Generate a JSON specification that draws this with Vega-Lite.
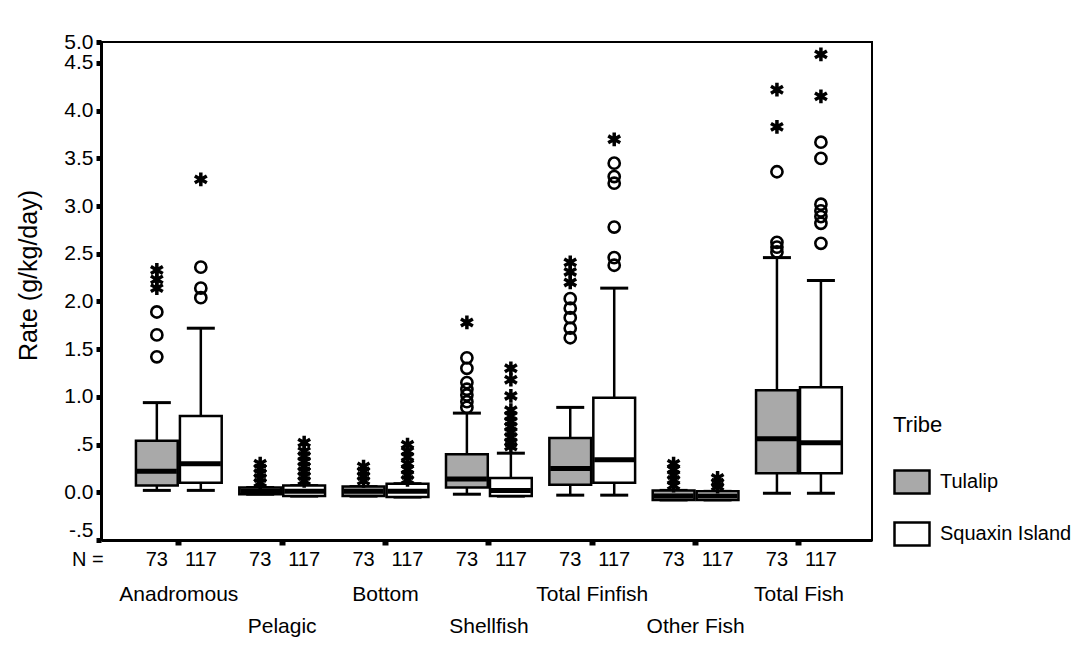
{
  "$schema": "https://vega.github.io/schema/vega-lite/v6.json",
  "width": 771,
  "height": 498,
  "autosize": {"type": "none"},
  "padding": {"left": 101, "top": 42, "right": 219, "bottom": 105},
  "background": "white",
  "config": {
    "font": "Liberation Sans",
    "view": {"stroke": "black", "strokeWidth": 2},
    "axis": {
      "domainColor": "black", "domainWidth": 3, "tickColor": "black",
      "labelColor": "black", "titleColor": "black", "grid": false,
      "labelFont": "Liberation Sans", "labelFontSize": 21,
      "titleFont": "Liberation Sans", "titleFontWeight": "normal", "titleFontSize": 25
    }
  },
  "datasets": {
    "boxes": [
      {"cat":"Anadromous","tribe":"Tulalip","n":73,"lo":0.02,"q1":0.07,"med":0.22,"q3":0.54,"hi":0.94},
      {"cat":"Anadromous","tribe":"Squaxin Island","n":117,"lo":0.02,"q1":0.1,"med":0.3,"q3":0.8,"hi":1.72},
      {"cat":"Pelagic","tribe":"Tulalip","n":73,"lo":-0.02,"q1":-0.02,"med":0.01,"q3":0.05,"hi":0.05},
      {"cat":"Pelagic","tribe":"Squaxin Island","n":117,"lo":-0.04,"q1":-0.04,"med":0.01,"q3":0.07,"hi":0.07},
      {"cat":"Bottom","tribe":"Tulalip","n":73,"lo":-0.04,"q1":-0.04,"med":0.01,"q3":0.06,"hi":0.06},
      {"cat":"Bottom","tribe":"Squaxin Island","n":117,"lo":-0.05,"q1":-0.05,"med":0.01,"q3":0.09,"hi":0.09},
      {"cat":"Shellfish","tribe":"Tulalip","n":73,"lo":-0.02,"q1":0.05,"med":0.14,"q3":0.4,"hi":0.83},
      {"cat":"Shellfish","tribe":"Squaxin Island","n":117,"lo":-0.04,"q1":-0.04,"med":0.02,"q3":0.15,"hi":0.41},
      {"cat":"Total Finfish","tribe":"Tulalip","n":73,"lo":-0.03,"q1":0.08,"med":0.25,"q3":0.57,"hi":0.89},
      {"cat":"Total Finfish","tribe":"Squaxin Island","n":117,"lo":-0.03,"q1":0.1,"med":0.34,"q3":0.99,"hi":2.14},
      {"cat":"Other Fish","tribe":"Tulalip","n":73,"lo":-0.08,"q1":-0.08,"med":-0.04,"q3":0.02,"hi":0.02},
      {"cat":"Other Fish","tribe":"Squaxin Island","n":117,"lo":-0.08,"q1":-0.08,"med":-0.04,"q3":0.01,"hi":0.01},
      {"cat":"Total Fish","tribe":"Tulalip","n":73,"lo":-0.01,"q1":0.2,"med":0.56,"q3":1.07,"hi":2.46},
      {"cat":"Total Fish","tribe":"Squaxin Island","n":117,"lo":-0.01,"q1":0.2,"med":0.52,"q3":1.1,"hi":2.22}
    ],
    "outliers": [
      {"cat":"Anadromous","tribe":"Tulalip","v":1.89},{"cat":"Anadromous","tribe":"Tulalip","v":1.65},{"cat":"Anadromous","tribe":"Tulalip","v":1.42},
      {"cat":"Anadromous","tribe":"Squaxin Island","v":2.36},{"cat":"Anadromous","tribe":"Squaxin Island","v":2.14},{"cat":"Anadromous","tribe":"Squaxin Island","v":2.04},
      {"cat":"Shellfish","tribe":"Tulalip","v":1.41},{"cat":"Shellfish","tribe":"Tulalip","v":1.3},{"cat":"Shellfish","tribe":"Tulalip","v":1.15},{"cat":"Shellfish","tribe":"Tulalip","v":1.08},{"cat":"Shellfish","tribe":"Tulalip","v":1.02},{"cat":"Shellfish","tribe":"Tulalip","v":0.95},{"cat":"Shellfish","tribe":"Tulalip","v":0.89},
      {"cat":"Total Finfish","tribe":"Tulalip","v":2.03},{"cat":"Total Finfish","tribe":"Tulalip","v":1.93},{"cat":"Total Finfish","tribe":"Tulalip","v":1.83},{"cat":"Total Finfish","tribe":"Tulalip","v":1.72},{"cat":"Total Finfish","tribe":"Tulalip","v":1.62},
      {"cat":"Total Finfish","tribe":"Squaxin Island","v":3.45},{"cat":"Total Finfish","tribe":"Squaxin Island","v":3.31},{"cat":"Total Finfish","tribe":"Squaxin Island","v":3.24},{"cat":"Total Finfish","tribe":"Squaxin Island","v":2.78},{"cat":"Total Finfish","tribe":"Squaxin Island","v":2.46},{"cat":"Total Finfish","tribe":"Squaxin Island","v":2.38},
      {"cat":"Total Fish","tribe":"Tulalip","v":3.36},{"cat":"Total Fish","tribe":"Tulalip","v":2.62},{"cat":"Total Fish","tribe":"Tulalip","v":2.57},{"cat":"Total Fish","tribe":"Tulalip","v":2.52},
      {"cat":"Total Fish","tribe":"Squaxin Island","v":3.67},{"cat":"Total Fish","tribe":"Squaxin Island","v":3.5},{"cat":"Total Fish","tribe":"Squaxin Island","v":3.02},{"cat":"Total Fish","tribe":"Squaxin Island","v":2.95},{"cat":"Total Fish","tribe":"Squaxin Island","v":2.89},{"cat":"Total Fish","tribe":"Squaxin Island","v":2.82},{"cat":"Total Fish","tribe":"Squaxin Island","v":2.61}
    ],
    "extremes": [
      {"cat":"Anadromous","tribe":"Tulalip","v":2.33},{"cat":"Anadromous","tribe":"Tulalip","v":2.23},{"cat":"Anadromous","tribe":"Tulalip","v":2.14},
      {"cat":"Anadromous","tribe":"Squaxin Island","v":3.28},
      {"cat":"Pelagic","tribe":"Tulalip","v":0.3},{"cat":"Pelagic","tribe":"Tulalip","v":0.25},{"cat":"Pelagic","tribe":"Tulalip","v":0.2},{"cat":"Pelagic","tribe":"Tulalip","v":0.15},{"cat":"Pelagic","tribe":"Tulalip","v":0.1},
      {"cat":"Pelagic","tribe":"Squaxin Island","v":0.52},{"cat":"Pelagic","tribe":"Squaxin Island","v":0.43},{"cat":"Pelagic","tribe":"Squaxin Island","v":0.38},{"cat":"Pelagic","tribe":"Squaxin Island","v":0.32},{"cat":"Pelagic","tribe":"Squaxin Island","v":0.27},{"cat":"Pelagic","tribe":"Squaxin Island","v":0.22},{"cat":"Pelagic","tribe":"Squaxin Island","v":0.17},{"cat":"Pelagic","tribe":"Squaxin Island","v":0.12},
      {"cat":"Bottom","tribe":"Tulalip","v":0.27},{"cat":"Bottom","tribe":"Tulalip","v":0.22},{"cat":"Bottom","tribe":"Tulalip","v":0.17},{"cat":"Bottom","tribe":"Tulalip","v":0.12},
      {"cat":"Bottom","tribe":"Squaxin Island","v":0.5},{"cat":"Bottom","tribe":"Squaxin Island","v":0.43},{"cat":"Bottom","tribe":"Squaxin Island","v":0.37},{"cat":"Bottom","tribe":"Squaxin Island","v":0.3},{"cat":"Bottom","tribe":"Squaxin Island","v":0.24},{"cat":"Bottom","tribe":"Squaxin Island","v":0.18},{"cat":"Bottom","tribe":"Squaxin Island","v":0.13},
      {"cat":"Shellfish","tribe":"Tulalip","v":1.78},
      {"cat":"Shellfish","tribe":"Squaxin Island","v":1.3},{"cat":"Shellfish","tribe":"Squaxin Island","v":1.18},{"cat":"Shellfish","tribe":"Squaxin Island","v":1.01},{"cat":"Shellfish","tribe":"Squaxin Island","v":0.86},{"cat":"Shellfish","tribe":"Squaxin Island","v":0.8},{"cat":"Shellfish","tribe":"Squaxin Island","v":0.74},{"cat":"Shellfish","tribe":"Squaxin Island","v":0.69},{"cat":"Shellfish","tribe":"Squaxin Island","v":0.63},{"cat":"Shellfish","tribe":"Squaxin Island","v":0.58},{"cat":"Shellfish","tribe":"Squaxin Island","v":0.52},{"cat":"Shellfish","tribe":"Squaxin Island","v":0.48},
      {"cat":"Total Finfish","tribe":"Tulalip","v":2.41},{"cat":"Total Finfish","tribe":"Tulalip","v":2.31},{"cat":"Total Finfish","tribe":"Tulalip","v":2.2},
      {"cat":"Total Finfish","tribe":"Squaxin Island","v":3.7},
      {"cat":"Other Fish","tribe":"Tulalip","v":0.3},{"cat":"Other Fish","tribe":"Tulalip","v":0.24},{"cat":"Other Fish","tribe":"Tulalip","v":0.18},{"cat":"Other Fish","tribe":"Tulalip","v":0.13},{"cat":"Other Fish","tribe":"Tulalip","v":0.07},
      {"cat":"Other Fish","tribe":"Squaxin Island","v":0.15},{"cat":"Other Fish","tribe":"Squaxin Island","v":0.1},{"cat":"Other Fish","tribe":"Squaxin Island","v":0.06},
      {"cat":"Total Fish","tribe":"Tulalip","v":4.22},{"cat":"Total Fish","tribe":"Tulalip","v":3.83},
      {"cat":"Total Fish","tribe":"Squaxin Island","v":4.59},{"cat":"Total Fish","tribe":"Squaxin Island","v":4.15}
    ]
  },
  "layer": [
    {
      "data": {"name": "boxes"},
      "mark": {"type": "rule", "color": "black", "strokeWidth": 2.5},
      "encoding": {
        "x": {"field": "cat", "type": "nominal", "sort": ["Anadromous","Pelagic","Bottom","Shellfish","Total Finfish","Other Fish","Total Fish"],
          "scale": {"paddingInner": 0, "paddingOuter": 0.23, "align": 0.55},
          "axis": {"title": null, "labelAngle": 0, "tickSize": 5, "tickWidth": 6, "labelPadding": 38, "labelLineHeight": 32,
            "labelOverlap": false, "labelBaseline": "top",
            "labelExpr": "indexof(['Pelagic','Shellfish','Other Fish'], datum.label) >= 0 ? ['', datum.label] : datum.label"}},
        "xOffset": {"field": "tribe", "type": "nominal", "sort": ["Tulalip","Squaxin Island"], "scale": {"paddingInner": 0.05, "paddingOuter": 0.2}},
        "y": {"field": "lo", "type": "quantitative", "title": "Rate (g/kg/day)",
          "scale": {"domain": [-0.5, 4.72], "nice": false, "zero": false},
          "axis": {"values": [-0.5,0,0.5,1,1.5,2,2.5,3,3.5,4,4.5,4.72], "tickSize": 5, "tickWidth": 5, "labelPadding": 3, "titlePadding": 22,
            "labelOverlap": false, "titleY": 233,
            "labelBaseline": {"condition": {"test": "datum.value < 0", "value": "bottom"}, "value": "middle"},
            "labelExpr": "datum.value > 4.6 ? '5.0' : datum.value == 0.5 ? '.5' : datum.value == -0.5 ? '-.5' : format(datum.value, '.1f')"}},
        "y2": {"field": "hi"}
      }
    },
    {
      "data": {"name": "boxes"},
      "mark": {"type": "tick", "color": "black", "size": 28, "thickness": 3, "opacity": 1},
      "encoding": {
        "x": {"field": "cat", "type": "nominal", "sort": ["Anadromous","Pelagic","Bottom","Shellfish","Total Finfish","Other Fish","Total Fish"]},
        "xOffset": {"field": "tribe", "type": "nominal", "sort": ["Tulalip","Squaxin Island"]},
        "y": {"field": "lo", "type": "quantitative", "title": "Rate (g/kg/day)", "scale": {"domain": [-0.5, 4.72], "nice": false, "zero": false}}
      }
    },
    {
      "data": {"name": "boxes"},
      "mark": {"type": "tick", "color": "black", "size": 28, "thickness": 3, "opacity": 1},
      "encoding": {
        "x": {"field": "cat", "type": "nominal", "sort": ["Anadromous","Pelagic","Bottom","Shellfish","Total Finfish","Other Fish","Total Fish"]},
        "xOffset": {"field": "tribe", "type": "nominal", "sort": ["Tulalip","Squaxin Island"]},
        "y": {"field": "hi", "type": "quantitative", "title": "Rate (g/kg/day)", "scale": {"domain": [-0.5, 4.72], "nice": false, "zero": false}}
      }
    },
    {
      "data": {"name": "boxes"},
      "mark": {"type": "bar", "stroke": "black", "strokeWidth": 2.5, "opacity": 1},
      "encoding": {
        "x": {"field": "cat", "type": "nominal", "sort": ["Anadromous","Pelagic","Bottom","Shellfish","Total Finfish","Other Fish","Total Fish"]},
        "xOffset": {"field": "tribe", "type": "nominal", "sort": ["Tulalip","Squaxin Island"]},
        "y": {"field": "q1", "type": "quantitative", "title": "Rate (g/kg/day)", "scale": {"domain": [-0.5, 4.72], "nice": false, "zero": false}},
        "y2": {"field": "q3"},
        "fill": {"field": "tribe", "type": "nominal", "sort": ["Tulalip","Squaxin Island"],
          "scale": {"domain": ["Tulalip","Squaxin Island"], "range": ["#a9a9a9", "#ffffff"]},
          "legend": {"title": "Tribe", "orient": "none", "legendX": 792, "legendY": 373,
            "titleFontSize": 22, "titleFontWeight": "normal", "titleFont": "Liberation Sans", "titleColor": "black", "titlePadding": 26,
            "labelFontSize": 20, "labelFont": "Liberation Sans", "labelColor": "black", "labelOffset": 9,
            "symbolType": "M-1,-0.66L1,-0.66L1,0.66L-1,0.66Z", "symbolSize": 1225, "symbolStrokeColor": "black", "symbolStrokeWidth": 2.5,
            "rowPadding": 16, "symbolOpacity": 1}}
      }
    },
    {
      "data": {"name": "boxes"},
      "mark": {"type": "tick", "color": "black", "size": 40, "thickness": 5, "opacity": 1},
      "encoding": {
        "x": {"field": "cat", "type": "nominal", "sort": ["Anadromous","Pelagic","Bottom","Shellfish","Total Finfish","Other Fish","Total Fish"]},
        "xOffset": {"field": "tribe", "type": "nominal", "sort": ["Tulalip","Squaxin Island"]},
        "y": {"field": "med", "type": "quantitative", "title": "Rate (g/kg/day)", "scale": {"domain": [-0.5, 4.72], "nice": false, "zero": false}}
      }
    },
    {
      "data": {"name": "outliers"},
      "mark": {"type": "point", "shape": "circle", "filled": false, "stroke": "black", "strokeWidth": 2.6, "size": 125, "opacity": 1},
      "encoding": {
        "x": {"field": "cat", "type": "nominal", "sort": ["Anadromous","Pelagic","Bottom","Shellfish","Total Finfish","Other Fish","Total Fish"]},
        "xOffset": {"field": "tribe", "type": "nominal", "sort": ["Tulalip","Squaxin Island"]},
        "y": {"field": "v", "type": "quantitative", "title": "Rate (g/kg/day)", "scale": {"domain": [-0.5, 4.72], "nice": false, "zero": false}}
      }
    },
    {
      "data": {"name": "extremes"},
      "mark": {"type": "point", "shape": "M0,-1L0,1M-0.87,-0.5L0.87,0.5M-0.87,0.5L0.87,-0.5", "filled": false, "stroke": "black", "strokeWidth": 3.5, "size": 190, "opacity": 1},
      "encoding": {
        "x": {"field": "cat", "type": "nominal", "sort": ["Anadromous","Pelagic","Bottom","Shellfish","Total Finfish","Other Fish","Total Fish"]},
        "xOffset": {"field": "tribe", "type": "nominal", "sort": ["Tulalip","Squaxin Island"]},
        "y": {"field": "v", "type": "quantitative", "title": "Rate (g/kg/day)", "scale": {"domain": [-0.5, 4.72], "nice": false, "zero": false}}
      }
    },
    {
      "data": {"name": "boxes"},
      "mark": {"type": "text", "font": "Liberation Sans", "fontSize": 20, "color": "black", "baseline": "middle", "clip": false},
      "encoding": {
        "x": {"field": "cat", "type": "nominal", "sort": ["Anadromous","Pelagic","Bottom","Shellfish","Total Finfish","Other Fish","Total Fish"]},
        "xOffset": {"field": "tribe", "type": "nominal", "sort": ["Tulalip","Squaxin Island"]},
        "y": {"datum": -0.71, "type": "quantitative", "scale": {"domain": [-0.5, 4.72], "nice": false, "zero": false}},
        "text": {"field": "n", "type": "nominal"}
      }
    },
    {
      "data": {"values": [{"cat": "Anadromous", "label": "N ="}]},
      "mark": {"type": "text", "font": "Liberation Sans", "fontSize": 20, "color": "black", "baseline": "middle", "dx": -91, "clip": false},
      "encoding": {
        "x": {"field": "cat", "type": "nominal", "sort": ["Anadromous","Pelagic","Bottom","Shellfish","Total Finfish","Other Fish","Total Fish"]},
        "y": {"datum": -0.71, "type": "quantitative", "scale": {"domain": [-0.5, 4.72], "nice": false, "zero": false}},
        "text": {"field": "label", "type": "nominal"}
      }
    }
  ]
}
